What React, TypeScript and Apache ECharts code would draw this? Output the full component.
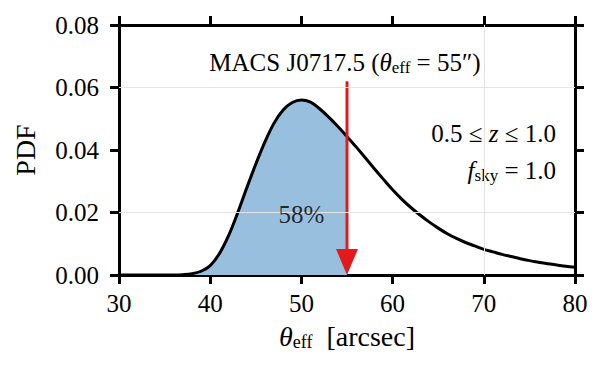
import React, { useEffect, useRef } from "react";
import * as echarts from "echarts";

// Curve (theta_eff in arcsec, PDF)
const thetaValues = [
  30, 31, 32, 33, 34, 35, 36, 37, 38, 39, 40, 41, 42, 43, 44, 45, 46, 47, 48, 49, 50,
  51, 52, 53, 54, 55, 56, 57, 58, 59, 60, 61, 62, 63, 64, 65, 66, 67, 68, 69, 70,
  71, 72, 73, 74, 75, 76, 77, 78, 79, 80,
];
const pdfValues = [
  0, 0, 0, 0, 0, 0, 0, 0.0001, 0.0004, 0.0012, 0.003, 0.0068, 0.0125, 0.0198, 0.0278,
  0.0355, 0.0426, 0.0486, 0.0528, 0.0552, 0.056, 0.0553, 0.0532, 0.0505, 0.0475, 0.0443,
  0.041, 0.0375, 0.034, 0.0306, 0.0273, 0.0243, 0.0216, 0.0192, 0.017, 0.015, 0.0132,
  0.0117, 0.0104, 0.0093, 0.0082, 0.0074, 0.0066, 0.0059, 0.0052, 0.0046, 0.0041,
  0.0036, 0.0032, 0.0028, 0.0025,
];
const shadeUpTo = 55; // shaded region ends at the cluster's theta_eff
const arrowX = 55;
const arrowTop = 0.062;
const arrowBottom = 0;
const xTicks = { min: 30, max: 80, interval: 10 };
const yTicks = { min: 0, max: 0.08, interval: 0.02 };
const gridYValues = [0.02, 0.06];
const gridXValues = [70];
const percentLabel = { x: 50, y: 0.0195, text: "58%" };

const FONT = "Liberation Serif";

export default function App() {
  const ref = useRef<HTMLDivElement>(null);
  useEffect(() => {
    if (!ref.current) return;
    const chart = echarts.init(ref.current, undefined, { renderer: "svg" });
    const curve = thetaValues.map((x, i) => [x, pdfValues[i]]);
    const shaded = curve.filter((p) => p[0] <= shadeUpTo);
    const axisLineStyle = { color: "#000", width: 3 };
    const tickStyle = { show: true, inside: false, length: 9, lineStyle: { color: "#000", width: 3 } };
    chart.setOption({
      animation: false,
      backgroundColor: "#fff",
      textStyle: { fontFamily: FONT },
      grid: { left: 119, right: 25, top: 25, bottom: 99 },
      xAxis: [
        {
          type: "value",
          min: xTicks.min,
          max: xTicks.max,
          interval: xTicks.interval,
          position: "bottom",
          axisLine: { show: true, onZero: false, lineStyle: axisLineStyle },
          axisTick: tickStyle,
          splitLine: { show: false },
          axisLabel: { fontFamily: FONT, fontSize: 25, color: "#000", margin: 16 },
          name: "{i|θ}{s|eff}{n|  [arcsec]}",
          nameLocation: "middle",
          nameGap: 46,
          nameTextStyle: {
            fontFamily: FONT,
            color: "#000",
            rich: {
              i: { fontFamily: FONT, fontSize: 28, fontStyle: "italic", color: "#000", verticalAlign: "middle", lineHeight: 30 },
              s: { fontFamily: FONT, fontSize: 18, color: "#000", verticalAlign: "bottom", lineHeight: 18, padding: [10, 0, 0, 0] },
              n: { fontFamily: FONT, fontSize: 28, color: "#000", verticalAlign: "middle", lineHeight: 30 },
            },
          },
        },
        {
          type: "value",
          min: xTicks.min,
          max: xTicks.max,
          interval: xTicks.interval,
          position: "top",
          axisLine: { show: true, onZero: false, lineStyle: axisLineStyle },
          axisTick: tickStyle,
          splitLine: { show: false },
          axisLabel: { show: false },
        },
      ],
      yAxis: [
        {
          type: "value",
          min: yTicks.min,
          max: yTicks.max,
          interval: yTicks.interval,
          position: "left",
          axisLine: { show: true, onZero: false, lineStyle: axisLineStyle },
          axisTick: tickStyle,
          splitLine: { show: false },
          axisLabel: {
            fontFamily: FONT,
            fontSize: 25,
            color: "#000",
            margin: 20,
            formatter: (v: number) => v.toFixed(2),
          },
          name: "PDF",
          nameLocation: "middle",
          nameGap: 80,
          nameTextStyle: { fontFamily: FONT, fontSize: 28, color: "#000" },
        },
        {
          type: "value",
          min: yTicks.min,
          max: yTicks.max,
          interval: yTicks.interval,
          position: "right",
          axisLine: { show: true, onZero: false, lineStyle: axisLineStyle },
          axisTick: tickStyle,
          splitLine: { show: false },
          axisLabel: { show: false },
        },
      ],
      series: [
        {
          type: "line",
          z: 1,
          data: [],
          silent: true,
          markLine: {
            silent: true,
            symbol: "none",
            label: { show: false },
            lineStyle: { color: "#e3e3e3", width: 1, type: "solid" },
            data: [
              ...gridYValues.map((v) => ({ yAxis: v })),
              ...gridXValues.map((v) => ({ xAxis: v })),
            ],
          },
        },
        {
          type: "line",
          z: 2,
          data: shaded,
          smooth: 0.35,
          showSymbol: false,
          symbol: "none",
          lineStyle: { width: 0 },
          areaStyle: { color: "#99bfdf", opacity: 1 },
        },
        {
          type: "line",
          z: 3,
          data: curve,
          smooth: 0.35,
          showSymbol: false,
          symbol: "none",
          lineStyle: { color: "#000", width: 3 },
        },
        {
          type: "custom",
          z: 4,
          data: [[arrowX, arrowTop, arrowBottom]],
          renderItem: (params: any, api: any) => {
            const x = api.value(0);
            const top = api.coord([x, api.value(1)]);
            const bot = api.coord([x, api.value(2)]);
            const headH = 26;
            const headW = 11;
            return {
              type: "group",
              children: [
                {
                  type: "line",
                  shape: { x1: top[0], y1: top[1], x2: bot[0], y2: bot[1] - headH + 2 },
                  style: { stroke: "#e31a1c", lineWidth: 3 },
                },
                {
                  type: "polygon",
                  shape: {
                    points: [
                      [bot[0], bot[1]],
                      [bot[0] - headW, bot[1] - headH],
                      [bot[0] + headW, bot[1] - headH],
                    ],
                  },
                  style: { fill: "#e31a1c" },
                },
              ],
            };
          },
        },
        {
          type: "scatter",
          z: 5,
          symbolSize: 0,
          silent: true,
          data: [[percentLabel.x, percentLabel.y]],
          label: {
            show: true,
            position: "inside",
            formatter: percentLabel.text,
            fontFamily: FONT,
            fontSize: 25,
            color: "#000",
          },
        },
      ],
      graphic: [
        {
          type: "text",
          x: 345,
          y: 62,
          style: {
            text: "{a|MACS J0717.5 (}{i|θ}{s|eff}{a| = 55″)}",
            align: "center",
            verticalAlign: "middle",
            fontFamily: FONT,
            rich: {
              a: { fontFamily: FONT, fontSize: 25, fill: "#000", verticalAlign: "middle", lineHeight: 28 },
              i: { fontFamily: FONT, fontSize: 25, fontStyle: "italic", fill: "#000", verticalAlign: "middle", lineHeight: 28 },
              s: { fontFamily: FONT, fontSize: 17, fill: "#000", verticalAlign: "bottom", lineHeight: 16, padding: [9, 0, 0, 0] },
            },
          },
        },
        {
          type: "text",
          x: 556,
          y: 133,
          style: {
            text: "{a|0.5 ≤ }{i|z}{a| ≤ 1.0}",
            align: "right",
            verticalAlign: "middle",
            fontFamily: FONT,
            rich: {
              a: { fontFamily: FONT, fontSize: 25, fill: "#000" },
              i: { fontFamily: FONT, fontSize: 25, fontStyle: "italic", fill: "#000" },
            },
          },
        },
        {
          type: "text",
          x: 556,
          y: 170,
          style: {
            text: "{i|f}{s|sky}{a| = 1.0}",
            align: "right",
            verticalAlign: "middle",
            fontFamily: FONT,
            rich: {
              a: { fontFamily: FONT, fontSize: 25, fill: "#000", verticalAlign: "middle", lineHeight: 28 },
              i: { fontFamily: FONT, fontSize: 25, fontStyle: "italic", fill: "#000", verticalAlign: "middle", lineHeight: 28 },
              s: { fontFamily: FONT, fontSize: 17, fill: "#000", verticalAlign: "bottom", lineHeight: 16, padding: [9, 0, 0, 0] },
            },
          },
        },
      ],
    });
    return () => chart.dispose();
  }, []);
  return (
    <div
      ref={ref}
      style={{ position: "fixed", left: 0, top: 0, width: 600, height: 374, background: "#fff" }}
    />
  );
}
